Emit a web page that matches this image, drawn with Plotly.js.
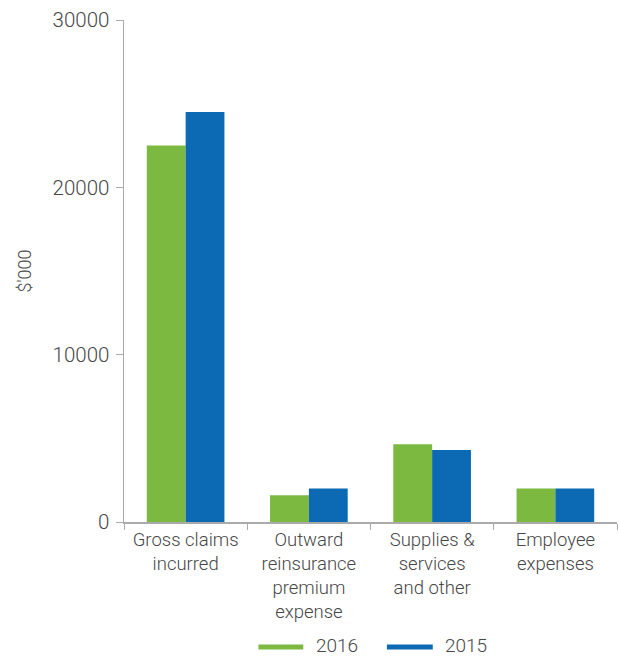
<!DOCTYPE html>
<html>
<head>
<meta charset="utf-8">
<script src="https://cdn.plot.ly/plotly-3.0.1.min.js"></script>
<style>html,body{margin:0;padding:0;background:#fff;}#chart{width:619px;height:656px;}</style>
</head>
<body>
<div id="chart"></div>
<script>
const categories = ["Gross claims<br>incurred", "Outward<br>reinsurance<br>premium<br>expense", "Supplies &<br>services<br>and other", "Employee<br>expenses"];
const seriesNames = ["2016", "2015"];
const values2016 = [22500, 1600, 4650, 2000];
const values2015 = [24500, 2000, 4300, 2000];
const yTicks = [0, 10000, 20000, 30000];
const colors = ["#7cb940", "#0c6ab4"];

const textColor = "#474747";
const fam = "Roboto, 'DejaVu Sans', sans-serif";
const font = {family: fam, size: 19, color: textColor, weight: 300};
const xFont = {family: fam, size: 18.5, color: textColor, weight: 300};
const yFont = {family: fam, size: 20.5, color: textColor, weight: 300};

const traces = [
  {type: "bar", x: categories, y: values2016, name: seriesNames[0], marker: {color: colors[0]}, showlegend: false},
  {type: "bar", x: categories, y: values2015, name: seriesNames[1], marker: {color: colors[1]}, showlegend: false}
];

// custom legend (line swatches)
const legendX = [[0.2727, 0.3636, 0.3859], [0.5333, 0.6263, 0.6465]];
const legendY = -0.249;
const shapes = [];
const annotations = [];
seriesNames.forEach((n, i) => {
  shapes.push({type: "line", xref: "paper", yref: "paper", x0: legendX[i][0], x1: legendX[i][1], y0: legendY, y1: legendY, line: {color: colors[i], width: 5}});
  annotations.push({xref: "paper", yref: "paper", x: legendX[i][2], y: legendY + 0.003, xanchor: "left", yanchor: "middle", text: n, showarrow: false, font: font});
});

const layout = {
  width: 619, height: 656,
  margin: {l: 124, r: 2, t: 20, b: 134},
  paper_bgcolor: "#fff", plot_bgcolor: "#fff",
  font: font,
  barmode: "group",
  bargap: 0.37,
  bargroupgap: 0,
  showlegend: false,
  xaxis: {
    type: "category",
    showline: true, linecolor: "#aaaaaa", linewidth: 1.5,
    ticks: "outside", tickson: "boundaries", ticklen: 6, tickcolor: "#aaaaaa",
    showgrid: false, zeroline: false,
    tickfont: xFont
  },
  yaxis: {
    range: [0, 30000],
    tickvals: yTicks, ticktext: yTicks.map(String),
    showline: true, linecolor: "#aaaaaa", linewidth: 1.5,
    ticks: "outside", ticklen: 7, tickcolor: "#aaaaaa",
    ticklabelstandoff: 2,
    showgrid: false, zeroline: false,
    tickfont: yFont,
    title: {text: "$'000", font: {family: fam, size: 18, color: textColor, weight: 300}, standoff: 16}
  },
  shapes: shapes,
  annotations: annotations
};

Plotly.newPlot("chart", traces, layout, {displayModeBar: false, staticPlot: true});
</script>
</body>
</html>
